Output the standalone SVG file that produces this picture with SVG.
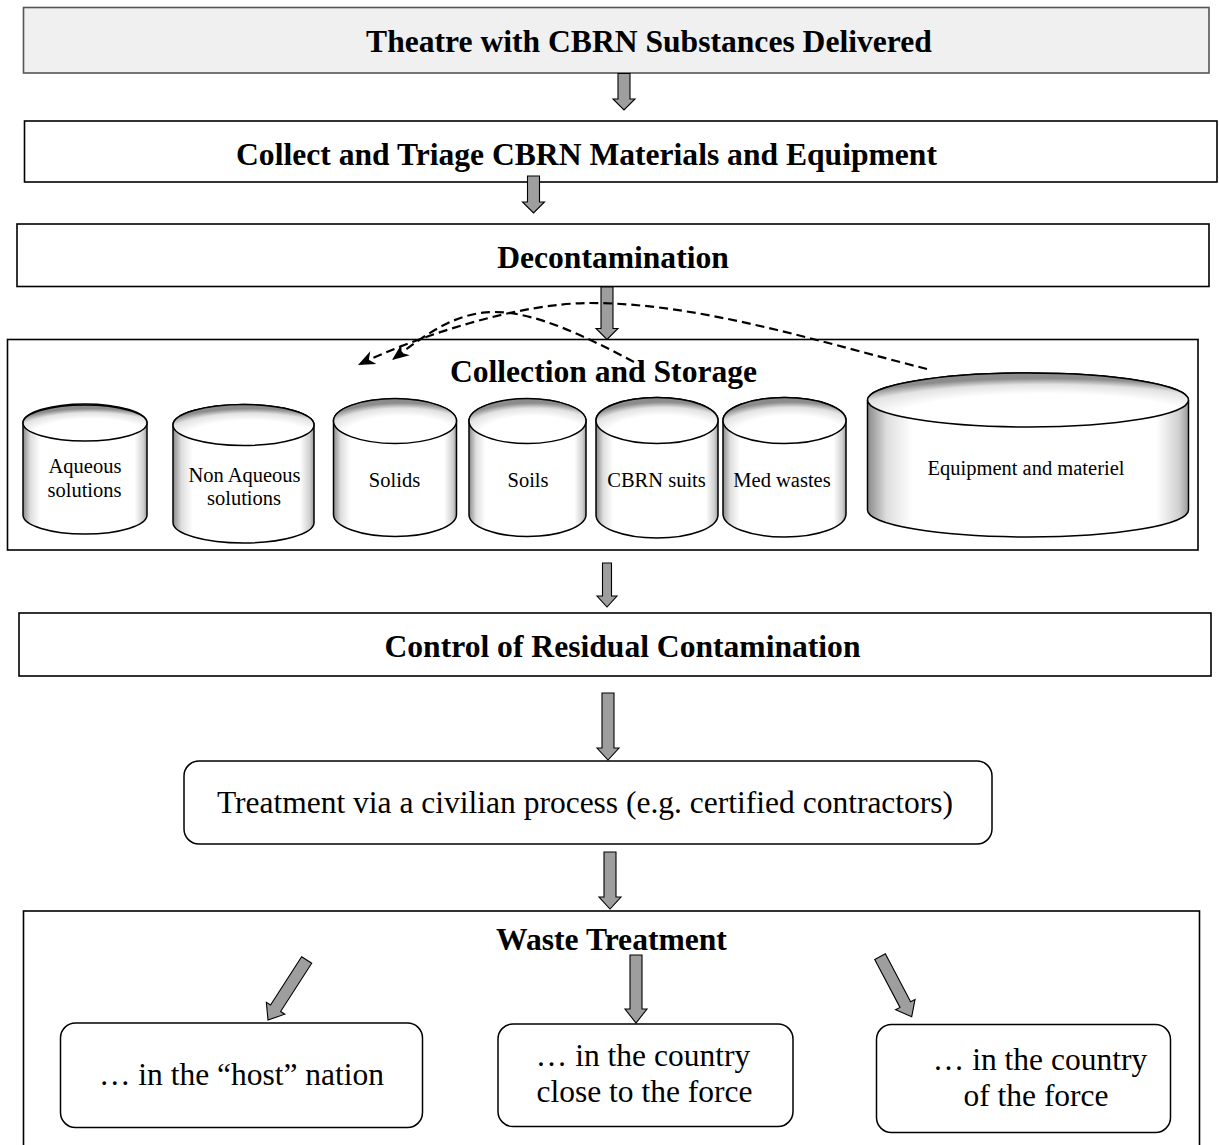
<svg xmlns="http://www.w3.org/2000/svg" width="1219" height="1145" viewBox="0 0 1219 1145">
<style>
.box{fill:#fff;stroke:#000;stroke-width:1.6}
.rbox{fill:#fff;stroke:#000;stroke-width:1.5}
.hd{font-family:"Liberation Serif","Times New Roman",serif;font-weight:bold;font-size:31.6px;fill:#000;text-anchor:middle}
.tx{font-family:"Liberation Serif","Times New Roman",serif;font-size:31.5px;fill:#000;text-anchor:middle}
.cl{font-family:"Liberation Serif","Times New Roman",serif;font-size:20.5px;fill:#000;text-anchor:middle}
.cylb{fill:url(#bodyG);stroke:#000;stroke-width:1.5}
.cylt{fill:url(#topG);stroke:#000;stroke-width:1.5}
.blk{fill:#9e9e9e;stroke:#000;stroke-width:1.1}
.dash{fill:none;stroke:#000;stroke-width:2.2;stroke-dasharray:9 5;marker-end:url(#ah)}
</style>
<defs>
<linearGradient id="bodyG" x1="0" y1="0" x2="1" y2="0">
<stop offset="0" stop-color="#8a8a8a"/>
<stop offset="0.06" stop-color="#dedede"/>
<stop offset="0.14" stop-color="#fff"/>
<stop offset="0.9" stop-color="#fff"/>
<stop offset="0.97" stop-color="#d0d0d0"/>
<stop offset="1" stop-color="#9a9a9a"/>
</linearGradient>
<radialGradient id="topG" cx="0.55" cy="0.85" r="0.75">
<stop offset="0.62" stop-color="#fff"/>
<stop offset="0.85" stop-color="#e2e2e2"/>
<stop offset="1" stop-color="#8c8c8c"/>
</radialGradient>
<marker id="ah" viewBox="-19 -9 21 18" markerWidth="21" markerHeight="18" refX="0" refY="0" orient="auto" markerUnits="userSpaceOnUse">
<path d="M0,0 L-17,-7 L-12,0 L-17,7 Z" fill="#000"/>
</marker>
</defs>
<rect width="1219" height="1145" fill="#fff"/>

<g id="theatre">
<rect x="23.5" y="7.5" width="1185.5" height="65.5" fill="#f0f0f0" stroke="#555" stroke-width="1.6"/>
<text class="hd" x="649" y="52">Theatre with CBRN Substances Delivered</text>
</g>

<g id="collect">
<rect class="box" x="24.5" y="121" width="1192.5" height="61"/>
<text class="hd" x="586.5" y="165">Collect and Triage CBRN Materials and Equipment</text>
</g>

<g id="decon">
<rect class="box" x="17" y="224" width="1192" height="62.5"/>
<text class="hd" x="613" y="268">Decontamination</text>
</g>

<g id="storage">
<rect class="box" x="7.5" y="339.5" width="1190.5" height="210.5"/>
<text class="hd" x="603.5" y="382">Collection and Storage</text>
</g>

<g id="cyl-aqueous">
<path class="cylb" d="M23,423 L23,515 A62,19 0 0 0 147,515 L147,423 A62,19 0 0 0 23,423 Z"/>
<ellipse class="cylt" cx="85" cy="423" rx="62" ry="18"/>
<text class="cl" x="85" y="473">Aqueous</text>
<text class="cl" x="84.5" y="497">solutions</text>
</g>

<g id="cyl-nonaqueous">
<path class="cylb" d="M173,425 L173,522.5 A70.5,20.5 0 0 0 314,522.5 L314,425 A70.5,20.5 0 0 0 173,425 Z"/>
<ellipse class="cylt" cx="243.5" cy="425" rx="70.5" ry="20.5"/>
<text class="cl" x="244.5" y="482">Non Aqueous</text>
<text class="cl" x="244" y="505">solutions</text>
</g>

<g id="cyl-solids">
<path class="cylb" d="M333.5,421 L333.5,514.5 A61.5,22 0 0 0 456.5,514.5 L456.5,421 A61.5,22 0 0 0 333.5,421 Z"/>
<ellipse class="cylt" cx="395" cy="421" rx="61.5" ry="22.5"/>
<text class="cl" x="394.5" y="487">Solids</text>
</g>

<g id="cyl-soils">
<path class="cylb" d="M469,421 L469,514.5 A58.5,22 0 0 0 586,514.5 L586,421 A58.5,22 0 0 0 469,421 Z"/>
<ellipse class="cylt" cx="527.5" cy="421" rx="58.5" ry="22.5"/>
<text class="cl" x="528" y="487">Soils</text>
</g>

<g id="cyl-suits">
<path class="cylb" d="M596,420.5 L596,515 A61,23 0 0 0 718,515 L718,420.5 A61,23 0 0 0 596,420.5 Z"/>
<ellipse class="cylt" cx="657" cy="420.5" rx="61" ry="23"/>
<text class="cl" x="656.5" y="487">CBRN suits</text>
</g>

<g id="cyl-med">
<path class="cylb" d="M723,420.5 L723,514 A61.5,23 0 0 0 846,514 L846,420.5 A61.5,23 0 0 0 723,420.5 Z"/>
<ellipse class="cylt" cx="784.5" cy="420.5" rx="61.5" ry="23"/>
<text class="cl" x="782" y="487">Med wastes</text>
</g>

<g id="cyl-equipment">
<path class="cylb" d="M867.5,400 L867.5,510 A160.5,27 0 0 0 1188.5,510 L1188.5,400 A160.5,27 0 0 0 867.5,400 Z"/>
<ellipse class="cylt" cx="1028" cy="400" rx="160.5" ry="27"/>
<text class="cl" x="1026" y="475">Equipment and materiel</text>
</g>

<g id="control">
<rect class="box" x="19" y="613" width="1192" height="63"/>
<text class="hd" x="622.5" y="657">Control of Residual Contamination</text>
</g>

<g id="civilian">
<rect class="rbox" x="184" y="761" width="808" height="83" rx="15" ry="15"/>
<text class="tx" x="585" y="813">Treatment via a civilian process (e.g. certified contractors)</text>
</g>

<g id="waste">
<rect class="box" x="23.5" y="911" width="1176" height="245"/>
<text class="hd" x="611.5" y="950">Waste Treatment</text>
</g>

<g id="host">
<rect class="rbox" x="60.5" y="1023" width="362" height="104.5" rx="15" ry="15"/>
<text class="tx" x="241.5" y="1085">… in the “host” nation</text>
</g>

<g id="close">
<rect class="rbox" x="498" y="1024" width="295" height="102.5" rx="15" ry="15"/>
<text class="tx" x="643" y="1066">… in the country</text>
<text class="tx" x="644.5" y="1102">close to the force</text>
</g>

<g id="force">
<rect class="rbox" x="876.5" y="1024.5" width="294" height="108" rx="15" ry="15"/>
<text class="tx" x="1040" y="1070">… in the country</text>
<text class="tx" x="1036" y="1106">of the force</text>
</g>

<g id="connectors">
<path class="blk" d="M618,73.5 H630 V99 H635 L624,110 L613,99 H618 Z"/>
<path class="blk" d="M527.5,176 H539.5 V202 H544.5 L533.5,213 L522.5,202 H527.5 Z"/>
<path class="blk" d="M601,287 H613 V328.5 H618 L607,339.5 L596,328.5 H601 Z"/>
<path class="blk" d="M602.5,563 H611.5 V596 H617 L607,607 L597,596 H602.5 Z"/>
<path class="blk" d="M602,693 H614 V748 H619 L608,760 L597,748 H602 Z"/>
<path class="blk" d="M604,852 H616 V897 H621 L610,909 L599,897 H604 Z"/>
<path class="blk" d="M630,955 H642 V1009 H647 L636,1023 L625,1009 H630 Z"/>
<path class="blk" transform="rotate(32.8 268 1020)" d="M262,948.6 H274 V1006 H279 L268,1020 L257,1006 H262 Z"/>
<path class="blk" transform="rotate(-27.8 911.7 1016.7)" d="M905.7,948.8 H917.7 V1003 H922.7 L911.7,1016.7 L900.7,1003 H905.7 Z"/>
<path class="dash" d="M927,369 C820,342 700,303 590,303 C520,303 420,335 358,365"/>
<path class="dash" d="M634,362 C585,336 535,312 495,312 C455,312 425,335 392,360"/>
</g>
</svg>
